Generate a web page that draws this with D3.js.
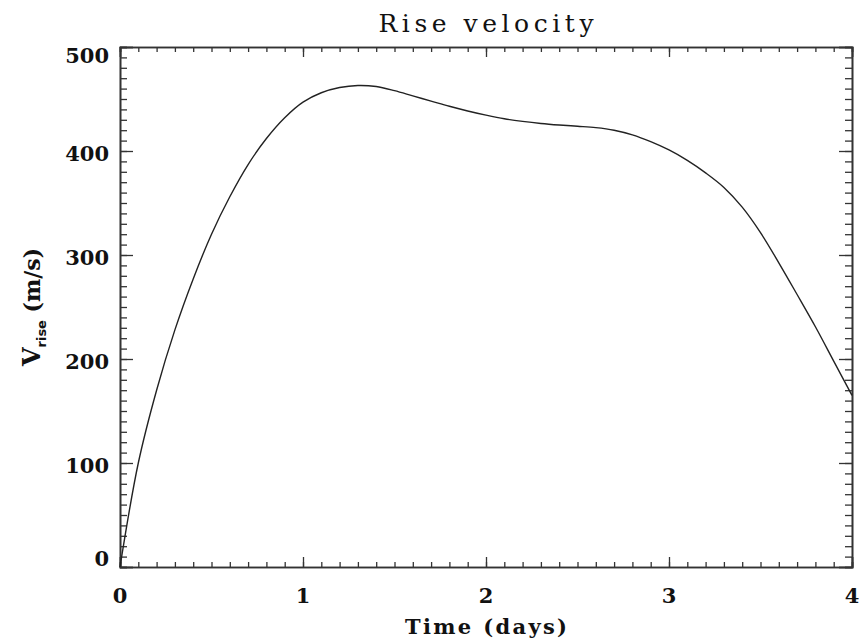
<!DOCTYPE html>
<html lang="en">
<head>
<meta charset="UTF-8">
<title>Rise velocity</title>
<script src="https://d3js.org/d3.v7.min.js"></script>
<style>
  body { margin: 0; background: #fff; }
  svg text { font-family: "DejaVu Serif", serif; fill: #111; }
  .axis path, .axis line { stroke: #333; }
</style>
</head>
<body>
<svg width="861" height="642"></svg>
<script>
  // time in days and rise velocity in m/s
  const timeDays = [0, 0.1, 0.2, 0.3, 0.4, 0.5, 0.6, 0.7, 0.8, 0.9, 1.0,
    1.1, 1.2, 1.3, 1.4, 1.5, 1.6, 1.7, 1.8, 1.9, 2.0,
    2.1, 2.2, 2.3, 2.4, 2.5, 2.6, 2.7, 2.8, 2.9, 3.0,
    3.1, 3.2, 3.3, 3.4, 3.5, 3.6, 3.7, 3.8, 3.9, 4.0];
  const riseVelocity = [0, 100, 170, 228, 277, 320, 356, 387, 412, 432, 447,
    456, 461, 463, 462, 458, 453, 448, 443, 438.5, 434.5,
    431, 428.5, 426.5, 425, 423.8, 422.5, 420, 415.5, 409, 401,
    391, 379, 365, 346, 321.5, 292.5, 262, 231, 198, 165];
  const xTicks = [0, 1, 2, 3, 4];
  const yTicks = [0, 100, 200, 300, 400, 500];

  const margin = { top: 47, right: 9, bottom: 75, left: 120 };
  const width = 861 - margin.left - margin.right;
  const height = 642 - margin.top - margin.bottom;

  const svg = d3.select("svg");
  const g = svg.append("g").attr("transform", `translate(${margin.left},${margin.top})`);

  const x = d3.scaleLinear().domain([0, 4]).range([0, width]);
  const y = d3.scaleLinear().domain([0, 500]).range([height, 0]);

  const xMinor = d3.range(0, 4.0001, 0.1).map(v => +v.toFixed(1));
  const yMinor = d3.range(0, 500.001, 10);

  // minor ticks on all four sides, pointing inward
  g.append("g").attr("class", "axis").attr("transform", `translate(0,${height})`)
    .call(d3.axisBottom(x).tickValues(xMinor).tickSize(-5).tickFormat(""));
  g.append("g").attr("class", "axis")
    .call(d3.axisTop(x).tickValues(xMinor).tickSize(-5).tickFormat(""));
  g.append("g").attr("class", "axis")
    .call(d3.axisLeft(y).tickValues(yMinor).tickSize(-7).tickFormat(""));
  g.append("g").attr("class", "axis").attr("transform", `translate(${width},0)`)
    .call(d3.axisRight(y).tickValues(yMinor).tickSize(-7).tickFormat(""));

  // major ticks
  g.append("g").attr("class", "axis").attr("transform", `translate(0,${height})`)
    .call(d3.axisBottom(x).tickValues(xTicks).tickSize(-10).tickFormat(""));
  g.append("g").attr("class", "axis")
    .call(d3.axisTop(x).tickValues(xTicks).tickSize(-10).tickFormat(""));
  g.append("g").attr("class", "axis")
    .call(d3.axisLeft(y).tickValues(yTicks).tickSize(-13).tickFormat(""));
  g.append("g").attr("class", "axis").attr("transform", `translate(${width},0)`)
    .call(d3.axisRight(y).tickValues(yTicks).tickSize(-13).tickFormat(""));

  g.selectAll(".axis path").attr("stroke-width", 1.6);
  g.selectAll(".axis line").attr("stroke-width", 1.3);

  // tick labels
  g.selectAll(".xlab").data(xTicks).enter().append("text")
    .attr("x", d => x(d))
    .attr("y", height + 36)
    .attr("text-anchor", "middle")
    .style("font-size", "21px")
    .style("font-weight", "bold")
    .text(d => d);

  g.selectAll(".ylab").data(yTicks).enter().append("text")
    .attr("x", -11)
    .attr("y", d => y(d) + (d === 500 ? 16 : d === 0 ? -1 : 10))
    .attr("text-anchor", "end")
    .style("font-size", "21px")
    .style("font-weight", "bold")
    .text(d => d);

  // curve
  const line = d3.line()
    .x((d, i) => x(timeDays[i]))
    .y(d => y(d))
    .curve(d3.curveCatmullRom);

  g.append("path")
    .datum(riseVelocity)
    .attr("fill", "none")
    .attr("stroke", "#222")
    .attr("stroke-width", 1.4)
    .attr("d", line);

  // title
  svg.append("text")
    .attr("x", margin.left + width / 2)
    .attr("y", 32)
    .attr("text-anchor", "middle")
    .attr("textLength", 215)
    .attr("lengthAdjust", "spacing")
    .style("font-size", "25px")
    .text("Rise velocity");

  // x axis title
  svg.append("text")
    .attr("x", margin.left + width / 2)
    .attr("y", 634)
    .attr("text-anchor", "middle")
    .attr("textLength", 162)
    .attr("lengthAdjust", "spacing")
    .style("font-size", "21px")
    .style("font-weight", "bold")
    .text("Time (days)");

  // y axis title with subscript
  const yTitle = svg.append("text")
    .attr("transform", `translate(40,${margin.top + height / 2}) rotate(-90)`)
    .attr("text-anchor", "middle")
    .style("font-size", "22px")
    .style("font-weight", "bold");
  yTitle.append("tspan").style("font-size", "24px").text("V");
  yTitle.append("tspan").attr("dy", 6).style("font-size", "13px")
    .style("font-family", "'DejaVu Sans', sans-serif").text("rise");
  yTitle.append("tspan").attr("dy", -6).text(" (m/s)");
</script>
</body>
</html>
